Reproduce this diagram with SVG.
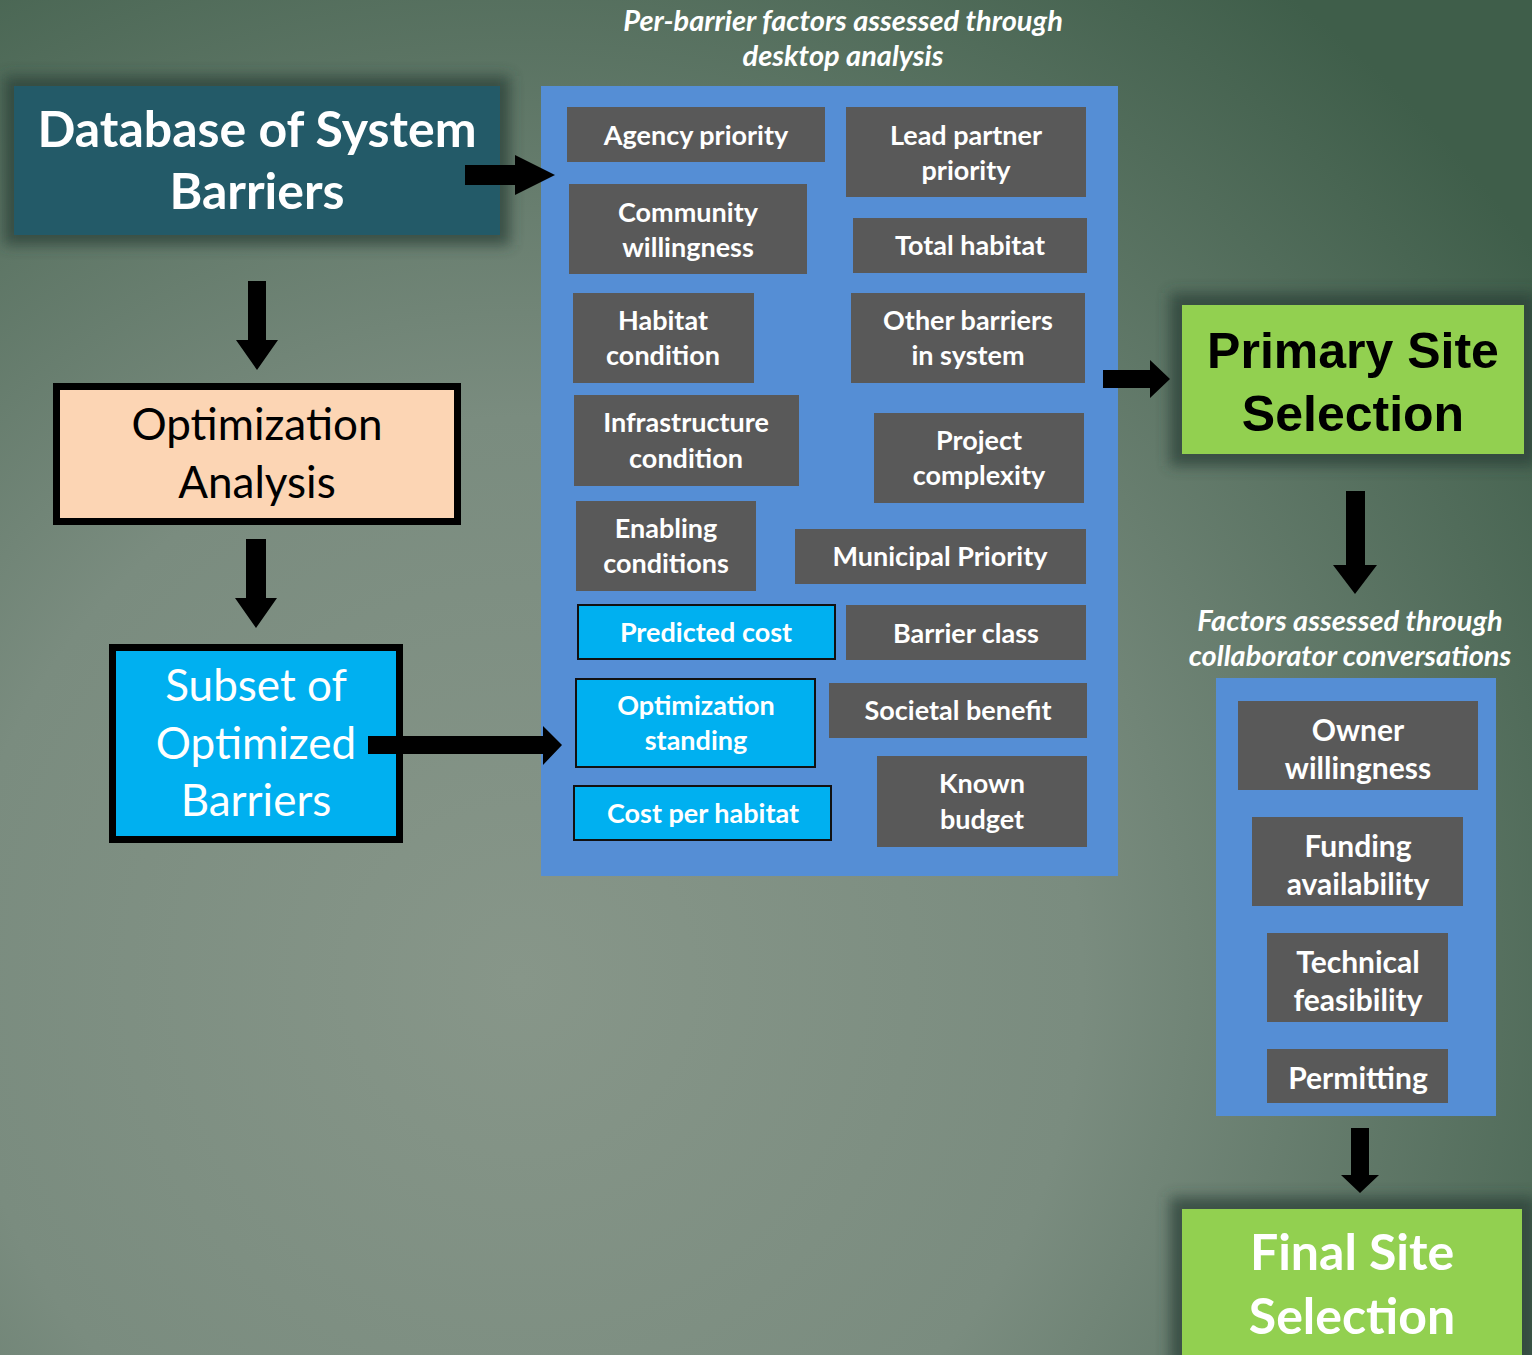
<svg xmlns="http://www.w3.org/2000/svg" width="1532" height="1355" viewBox="0 0 1532 1355">
<defs>
<radialGradient id="bg" cx="520" cy="980" r="1250" gradientUnits="userSpaceOnUse">
<stop offset="0" stop-color="#879689"/>
<stop offset="0.45" stop-color="#7a8c7f"/>
<stop offset="1" stop-color="#3f5e4a"/>
</radialGradient>
<filter id="sh" x="-20%" y="-30%" width="140%" height="160%">
<feGaussianBlur stdDeviation="7"/>
</filter>
</defs>
<style>
.g{fill:#595959}
.b{fill:#00b0f0;stroke:#111;stroke-width:2}
.p{fill:#558ed5}
.t{font-family:Lato,"Open Sans",sans-serif;font-weight:bold;font-size:27px;fill:#fff;text-anchor:middle}
.t2{font-family:Lato,"Open Sans",sans-serif;font-weight:bold;font-size:30px;fill:#fff;text-anchor:middle}
.cap{font-family:Lato,"Open Sans",sans-serif;font-weight:bold;font-style:italic;font-size:29px;fill:#fff;text-anchor:middle}
.arr{fill:#000}
</style>
<rect width="1532" height="1355" fill="url(#bg)"/>

<g id="database">
<rect x="4" y="76" width="506" height="169" fill="#2c3f38" opacity="0.75" filter="url(#sh)"/>
<rect x="14" y="86" width="486" height="149" fill="#235a68"/>
<text font-family="Lato,'Open Sans',sans-serif" font-weight="bold" font-size="50" fill="#fff" text-anchor="middle"><tspan x="257" y="147">Database of System</tspan><tspan x="257" y="209">Barriers</tspan></text>
</g>

<g id="optimization">
<rect x="56.5" y="386.5" width="401" height="135" fill="#fcd5b4" stroke="#000" stroke-width="7"/>
<text font-family="Lato,'Open Sans',sans-serif" font-size="44" fill="#000" text-anchor="middle"><tspan x="257" y="440">Optimization</tspan><tspan x="257" y="498">Analysis</tspan></text>
</g>

<g id="subset">
<rect x="112.5" y="647.5" width="287" height="192" fill="#00b0f0" stroke="#000" stroke-width="7"/>
<text font-family="Lato,'Open Sans',sans-serif" font-size="44" fill="#fff" text-anchor="middle"><tspan x="256" y="701">Subset of</tspan><tspan x="256" y="759">Optimized</tspan><tspan x="256" y="816">Barriers</tspan></text>
</g>

<g id="desktop-panel">
<text class="cap"><tspan x="843" y="31">Per-barrier factors assessed through</tspan><tspan x="843" y="66">desktop analysis</tspan></text>
<rect class="p" x="541" y="86" width="577" height="790"/>
</g>

<g id="agency-priority"><rect class="g" x="567" y="107" width="258" height="55"/><text class="t" x="696" y="145">Agency priority</text></g>
<g id="lead-partner-priority"><rect class="g" x="846" y="107" width="240" height="90"/><text class="t"><tspan x="966" y="145">Lead partner</tspan><tspan x="966" y="180">priority</tspan></text></g>
<g id="community-willingness"><rect class="g" x="569" y="184" width="238" height="90"/><text class="t"><tspan x="688" y="222">Community</tspan><tspan x="688" y="257">willingness</tspan></text></g>
<g id="total-habitat"><rect class="g" x="853" y="218" width="234" height="55"/><text class="t" x="970" y="255">Total habitat</text></g>
<g id="habitat-condition"><rect class="g" x="573" y="293" width="181" height="90"/><text class="t"><tspan x="663" y="330">Habitat</tspan><tspan x="663" y="365">condition</tspan></text></g>
<g id="other-barriers"><rect class="g" x="851" y="293" width="234" height="90"/><text class="t"><tspan x="968" y="330">Other barriers</tspan><tspan x="968" y="365">in system</tspan></text></g>
<g id="infrastructure-condition"><rect class="g" x="574" y="395" width="225" height="91"/><text class="t"><tspan x="686" y="432">Infrastructure</tspan><tspan x="686" y="468">condition</tspan></text></g>
<g id="project-complexity"><rect class="g" x="874" y="413" width="210" height="90"/><text class="t"><tspan x="979" y="450">Project</tspan><tspan x="979" y="485">complexity</tspan></text></g>
<g id="enabling-conditions"><rect class="g" x="576" y="501" width="180" height="90"/><text class="t"><tspan x="666" y="538">Enabling</tspan><tspan x="666" y="573">conditions</tspan></text></g>
<g id="municipal-priority"><rect class="g" x="795" y="529" width="291" height="55"/><text class="t" x="940" y="566">Municipal Priority</text></g>
<g id="predicted-cost"><rect class="b" x="578" y="605" width="257" height="54"/><text class="t" x="706" y="642">Predicted cost</text></g>
<g id="barrier-class"><rect class="g" x="846" y="605" width="240" height="55"/><text class="t" x="966" y="643">Barrier class</text></g>
<g id="optimization-standing"><rect class="b" x="576" y="679" width="239" height="88"/><text class="t"><tspan x="696" y="715">Optimization</tspan><tspan x="696" y="750">standing</tspan></text></g>
<g id="societal-benefit"><rect class="g" x="829" y="683" width="258" height="55"/><text class="t" x="958" y="720">Societal benefit</text></g>
<g id="cost-per-habitat"><rect class="b" x="574" y="786" width="257" height="54"/><text class="t" x="703" y="823">Cost per habitat</text></g>
<g id="known-budget"><rect class="g" x="877" y="756" width="210" height="91"/><text class="t"><tspan x="982" y="793">Known</tspan><tspan x="982" y="829">budget</tspan></text></g>

<g id="primary-site-selection">
<rect x="1170" y="293" width="366" height="173" fill="#2c3f38" opacity="0.75" filter="url(#sh)"/>
<rect x="1182" y="305" width="342" height="149" fill="#92d050"/>
<text font-family="'Liberation Sans',Arial,sans-serif" font-weight="bold" font-size="50" fill="#000" text-anchor="middle"><tspan x="1353" y="368">Primary Site</tspan><tspan x="1353" y="431">Selection</tspan></text>
</g>

<g id="collaborator-panel">
<text class="cap"><tspan x="1350" y="631">Factors assessed through</tspan><tspan x="1350" y="666">collaborator conversations</tspan></text>
<rect class="p" x="1216" y="678" width="280" height="438"/>
</g>
<g id="owner-willingness"><rect class="g" x="1238" y="701" width="240" height="89"/><text class="t2"><tspan x="1358" y="741">Owner</tspan><tspan x="1358" y="779">willingness</tspan></text></g>
<g id="funding-availability"><rect class="g" x="1252" y="817" width="211" height="89"/><text class="t2"><tspan x="1358" y="857">Funding</tspan><tspan x="1358" y="895">availability</tspan></text></g>
<g id="technical-feasibility"><rect class="g" x="1267" y="933" width="181" height="89"/><text class="t2"><tspan x="1358" y="973">Technical</tspan><tspan x="1358" y="1011">feasibility</tspan></text></g>
<g id="permitting"><rect class="g" x="1267" y="1049" width="181" height="54"/><text class="t2" x="1358" y="1089">Permitting</text></g>

<g id="final-site-selection">
<rect x="1170" y="1197" width="366" height="170" fill="#2c3f38" opacity="0.75" filter="url(#sh)"/>
<rect x="1182" y="1209" width="340" height="146" fill="#92d050"/>
<text font-family="Lato,'Open Sans',sans-serif" font-weight="bold" font-size="50" fill="#fff" text-anchor="middle"><tspan x="1352" y="1270">Final Site</tspan><tspan x="1352" y="1334">Selection</tspan></text>
</g>

<g id="connectors">
<polygon class="arr" points="465,165 515,165 515,155 555,175 515,195 515,185 465,185"/>
<polygon class="arr" points="248,281 266,281 266,340 278,340 257,370 236,340 248,340"/>
<polygon class="arr" points="246,539 266,539 266,598 277,598 256,628 235,598 246,598"/>
<polygon class="arr" points="368,736 543,736 543,726 562,745 543,765 543,754 368,754"/>
<polygon class="arr" points="1103,370 1150,370 1150,360 1170,379 1150,398 1150,388 1103,388"/>
<polygon class="arr" points="1346,491 1365,491 1365,565 1377,565 1355,594 1333,565 1346,565"/>
<polygon class="arr" points="1351,1128 1369,1128 1369,1175 1379,1175 1360,1193 1341,1175 1351,1175"/>
</g>
</svg>
